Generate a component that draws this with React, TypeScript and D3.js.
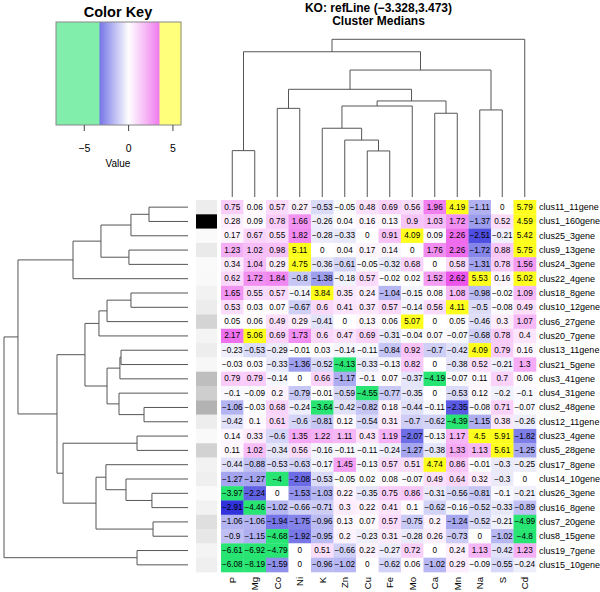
import React from "react";
import * as d3 from "d3";

const columns = ["P", "Mg", "Co", "Ni", "K", "Zn", "Cu", "Fe", "Mo", "Ca", "Mn", "Na", "S", "Cd"];

const rowNames = [
  "clus11_11gene", "clus1_160gene", "clus25_3gene", "clus9_13gene", "clus24_3gene",
  "clus22_4gene", "clus18_8gene", "clus10_12gene", "clus6_27gene", "clus20_7gene",
  "clus13_11gene", "clus21_5gene", "clus3_41gene", "clus4_31gene", "clus2_48gene",
  "clus12_11gene", "clus23_4gene", "clus5_28gene", "clus17_8gene", "clus14_10gene",
  "clus26_3gene", "clus16_8gene", "clus7_20gene", "clus8_15gene", "clus19_7gene",
  "clus15_10gene",
];

const geneCounts = [11, 160, 3, 13, 3, 4, 8, 12, 27, 7, 11, 5, 41, 31, 48, 11, 4, 28, 8, 10, 3, 8, 20, 15, 7, 10];

const values: number[][] = [
  [0.75, 0.06, 0.57, 0.27, -0.53, -0.05, 0.48, 0.69, 0.56, 1.96, 4.19, -1.11, 0, 5.79],
  [0.28, 0.09, 0.78, 1.66, -0.26, 0.04, 0.16, 0.13, 0.9, 1.03, 1.72, -1.37, 0.52, 4.59],
  [0.17, 0.67, 0.55, 1.82, -0.28, -0.33, 0, 0.91, 4.09, 0.09, 2.26, -2.51, -0.21, 5.42],
  [1.23, 1.02, 0.98, 5.11, 0, 0.04, 0.17, 0.14, 0, 1.76, 2.26, -1.72, 0.88, 5.75],
  [0.34, 1.04, 0.29, 4.75, -0.36, -0.61, -0.05, -0.32, 0.68, 0, 0.58, -1.31, 0.78, 1.56],
  [0.62, 1.72, 1.84, -0.8, -1.38, -0.18, 0.57, -0.02, 0.02, 1.52, 2.62, 5.53, 0.16, 5.02],
  [1.65, 0.55, 0.57, -0.14, 3.84, 0.35, 0.24, -1.04, -0.15, 0.08, 1.08, -0.98, -0.02, 1.09],
  [0.53, 0.03, 0.07, -0.67, 0.6, 0.41, 0.37, 0.57, -0.14, 0.56, 4.11, -0.5, -0.08, 0.49],
  [0.05, 0.06, 0.49, 0.29, -0.41, 0, 0.13, 0.06, 5.07, 0, 0.05, -0.46, 0.3, 1.07],
  [2.17, 5.06, 0.69, 1.73, 0.6, 0.47, 0.69, -0.31, -0.04, 0.07, -0.07, -0.68, 0.78, 0.4],
  [-0.23, -0.53, -0.29, -0.01, 0.03, -0.14, -0.11, -0.84, 0.92, -0.7, -0.42, 4.09, 0.79, 0.16],
  [-0.03, 0.03, -0.33, -1.36, -0.52, -4.13, -0.33, -0.13, 0.82, 0, -0.38, 0.52, -0.21, 1.3],
  [0.79, 0.79, -0.14, 0, 0.66, -1.17, -0.1, 0.07, -0.37, -4.19, -0.07, 0.11, 0.7, 0.06],
  [-0.1, -0.09, 0.2, -0.79, -0.01, -0.59, -4.55, -0.77, -0.35, 0, -0.53, 0.12, -0.2, -0.1],
  [-1.06, -0.03, 0.68, -0.24, -3.64, -0.42, -0.82, 0.18, -0.44, -0.11, -2.35, -0.08, 0.71, -0.07],
  [-0.42, 0.1, 0.61, -0.6, -0.81, 0.12, -0.54, 0.31, -0.7, -0.62, -4.39, -1.15, 0.38, -0.26],
  [0.14, 0.33, -0.6, 1.35, 1.22, 1.11, 0.43, 1.19, -2.07, -0.13, 1.17, 4.5, 5.91, -1.82],
  [0.11, 1.02, -0.34, 0.56, -0.16, -0.11, -0.11, -0.24, -1.27, -0.38, 1.33, 1.13, 5.61, -1.25],
  [-0.44, -0.88, -0.53, -0.63, -0.17, 1.45, -0.13, 0.57, 0.51, 4.74, 0.86, -0.01, -0.3, -0.25],
  [-1.27, -1.27, -4, -2.08, -0.53, -0.05, 0.02, 0.08, -0.07, 0.49, 0.64, 0.32, -0.3, 0],
  [-3.97, -2.24, 0, -1.53, -1.03, 0.22, -0.35, 0.75, 0.86, -0.31, -0.56, -0.81, -0.1, -0.21],
  [-2.91, -4.46, -1.02, -0.66, -0.71, 0.3, 0.22, 0.41, 0.1, -0.62, -0.16, -0.52, -0.33, -0.89],
  [-1.06, -1.06, -1.94, -1.75, -0.96, 0.13, 0.07, 0.57, -0.75, 0.2, -1.24, -0.52, -0.21, -4.99],
  [-0.9, -1.15, -4.68, -1.92, -0.95, 0.2, -0.23, 0.31, -0.28, 0.26, -0.73, 0, -1.02, -4.8],
  [-6.61, -6.92, -4.79, 0, 0.51, -0.66, 0.22, -0.27, 0.72, 0, 0.24, 1.13, -0.42, 1.23],
  [-6.08, -8.19, -1.59, 0, -0.96, -1.02, 0, -0.62, 0.06, -1.02, 0.29, -0.09, -0.55, -0.24],
];

const keyTicks = [-5, 0, 5];
const refLow = -3.328;
const refHigh = 3.473;

type Tree = { h: number; c: (Tree | number)[] };

// dendrogram merge heights (arbitrary units, root = 10)
const rowTree: Tree = {
  h: 10, c: [
    { h: 9.24, c: [
      { h: 6.25, c: [
        { h: 4.73, c: [
          { h: 3.1, c: [{ h: 2.12, c: [0, 1] }, 2] },
          { h: 3.21, c: [3, 4] },
        ] },
        5,
      ] },
      { h: 7.12, c: [
        { h: 5.6, c: [
          { h: 4.84, c: [{ h: 4.4, c: [{ h: 3.1, c: [6, 7] }, 8] }, 9] },
          { h: 4.4, c: [
            { h: 3.7, c: [{ h: 3.64, c: [10, 11] }, 12] },
            { h: 3.75, c: [13, { h: 2.39, c: [14, 15] }] },
          ] },
        ] },
        { h: 6.79, c: [
          { h: 2.77, c: [16, 17] },
          { h: 5.0, c: [
            { h: 4.46, c: [18, { h: 3.37, c: [19, { h: 1.96, c: [20, 21] }] }] },
            { h: 1.9, c: [22, 23] },
          ] },
        ] },
      ] },
    ] },
    { h: 2.77, c: [24, 25] },
  ],
};

const colTree: Tree = {
  h: 10, c: [
    { h: 9.21, c: [
      { h: 2.94, c: [0, 1] },
      { h: 8.05, c: [
        { h: 6.83, c: [
          { h: 5.62, c: [2, 3] },
          { h: 6.09, c: [
            { h: 5.77, c: [{ h: 4.36, c: [4, { h: 3.61, c: [5, { h: 2.92, c: [6, 7] }] }] }, 8] },
            { h: 5.31, c: [9, 10] },
          ] },
        ] },
        { h: 5.52, c: [11, 12] },
      ] },
    ] },
    13,
  ],
};

const FONT = "'Liberation Sans', Arial, Helvetica, sans-serif";
const GREEN = "rgb(40,228,115)";
const YELLOW = "rgb(255,255,30)";
const BLUE = "rgb(20,20,215)";
const MAGENTA = "rgb(228,30,228)";

function cellColor(v: number): string {
  if (v < refLow) return GREEN;
  if (v > refHigh) return YELLOW;
  if (v < 0) return d3.interpolateRgb("#ffffff", BLUE)(v / refLow);
  return d3.interpolateRgb("#ffffff", MAGENTA)(v / refHigh);
}

function fmt(v: number): string {
  const s = String(v);
  return s.replace("-", "\u2212");
}

type Seg = [number, number, number, number];

// returns position of the node along the leaf axis; pushes segments as [leafPos1, h1, leafPos2, h2]
function layoutTree(t: Tree | number, leafPos: (i: number) => number, segs: Seg[]): { p: number; h: number } {
  if (typeof t === "number") return { p: leafPos(t), h: 0 };
  const kids = t.c.map((k) => layoutTree(k, leafPos, segs));
  const p = (kids[0].p + kids[kids.length - 1].p) / 2;
  kids.forEach((k) => segs.push([k.p, k.h, k.p, t.h]));
  segs.push([kids[0].p, t.h, kids[kids.length - 1].p, t.h]);
  return { p, h: t.h };
}

export default function App() {
  const W = 600;
  const H = 592;

  const xCol = d3.scaleBand<string>().domain(columns).range([221, 536]).padding(0);
  const yRow = d3.scaleBand<string>().domain(rowNames).range([200, 572]).padding(0);
  const cw = xCol.bandwidth();
  const ch = yRow.bandwidth();

  const rowDenX = d3.scaleLinear().domain([0, 10]).range([188, 4]);
  const colDenY = d3.scaleLinear().domain([0, 10]).range([197, 39.3]);

  const rowSegs: Seg[] = [];
  layoutTree(rowTree, (i) => (yRow(rowNames[i]) as number) + ch / 2, rowSegs);
  const colSegs: Seg[] = [];
  layoutTree(colTree, (i) => (xCol(columns[i]) as number) + cw / 2, colSegs);

  const flat = values.flat();
  const vMin = d3.min(flat) as number;
  const vMax = d3.max(flat) as number;
  const xKey = d3.scaleLinear().domain([vMin, vMax]).range([56, 181]);
  const keyTop = 22;
  const keyBottom = 125;
  const keySteps = d3.range(0, 250).map((i) => vMin + ((vMax - vMin) * i) / 250);
  const stepW = (xKey(vMax) - xKey(vMin)) / 250;

  const gray = d3.scaleLinear().domain([0, d3.max(geneCounts) as number]).range([1, 0]);

  const lineColor = "#555";

  return (
    <svg width={W} height={H} style={{ position: "absolute", left: 0, top: 0, background: "#fff" }} fontFamily={FONT}>
      <rect x={0} y={0} width={W} height={H} fill="#fff" />
      {/* Color key */}
      <text x={118} y={12} textAnchor="middle" dominantBaseline="central" fontSize={14.5} fontWeight="bold">
        Color Key
      </text>
      <g opacity={0.6}>
        {keySteps.map((v, i) => (
          <rect key={i} x={xKey(v)} y={keyTop} width={stepW + 0.4} height={keyBottom - keyTop} fill={cellColor(v)} />
        ))}
      </g>
      <rect x={xKey(vMin)} y={keyTop} width={xKey(vMax) - xKey(vMin)} height={keyBottom - keyTop} fill="none" stroke="#888" strokeWidth={1} />
      {keyTicks.map((t) => (
        <g key={t}>
          <line x1={xKey(t)} x2={xKey(t)} y1={keyBottom} y2={keyBottom + 6} stroke="#444" />
          <text x={xKey(t)} y={148} textAnchor="middle" dominantBaseline="central" fontSize={10.5}>
            {fmt(t)}
          </text>
        </g>
      ))}
      <text x={118} y={163} textAnchor="middle" dominantBaseline="central" fontSize={10}>
        Value
      </text>

      {/* Title */}
      <text x={378.5} y={7.5} textAnchor="middle" dominantBaseline="central" fontSize={12} fontWeight="bold">
        {"KO: refLine (\u22123.328,3.473)"}
      </text>
      <text x={378.5} y={21} textAnchor="middle" dominantBaseline="central" fontSize={12} fontWeight="bold">
        Cluster Medians
      </text>

      {/* Column dendrogram */}
      <g stroke={lineColor} strokeWidth={1} fill="none">
        {colSegs.map((s, i) => (
          <line key={i} x1={s[0]} y1={colDenY(s[1])} x2={s[2]} y2={colDenY(s[3])} />
        ))}
      </g>

      {/* Row dendrogram */}
      <g stroke={lineColor} strokeWidth={1} fill="none">
        {rowSegs.map((s, i) => (
          <line key={i} x1={rowDenX(s[1])} y1={s[0]} x2={rowDenX(s[3])} y2={s[2]} />
        ))}
      </g>

      {/* Row side colors */}
      {rowNames.map((r, i) => {
        const g = Math.round(255 * gray(geneCounts[i]));
        return (
          <rect key={r} x={196} y={yRow(r)} width={21} height={ch + 0.3} fill={`rgb(${g},${g},${g})`} />
        );
      })}

      {/* Heatmap cells */}
      {rowNames.map((r, i) =>
        columns.map((c, j) => (
          <rect
            key={r + c}
            x={xCol(c)}
            y={yRow(r)}
            width={cw + 0.3}
            height={ch + 0.3}
            fill={cellColor(values[i][j])}
          />
        ))
      )}
      {rowNames.map((r, i) =>
        columns.map((c, j) => (
          <text
            key={"t" + r + c}
            x={(xCol(c) as number) + cw / 2}
            y={(yRow(r) as number) + ch / 2}
            textAnchor="middle"
            dominantBaseline="central"
            fontSize={8.2}
            fill="#000"
          >
            {fmt(values[i][j])}
          </text>
        ))
      )}

      {/* Row labels */}
      {rowNames.map((r) => (
        <text key={"l" + r} x={539} y={(yRow(r) as number) + ch / 2} dominantBaseline="central" fontSize={9}>
          {r}
        </text>
      ))}

      {/* Column labels */}
      {columns.map((c) => (
        <text
          key={"c" + c}
          transform={`translate(${(xCol(c) as number) + cw / 2},577) rotate(-90)`}
          textAnchor="end"
          dy="0.35em"
          fontSize={9.5}
        >
          {c}
        </text>
      ))}
    </svg>
  );
}
